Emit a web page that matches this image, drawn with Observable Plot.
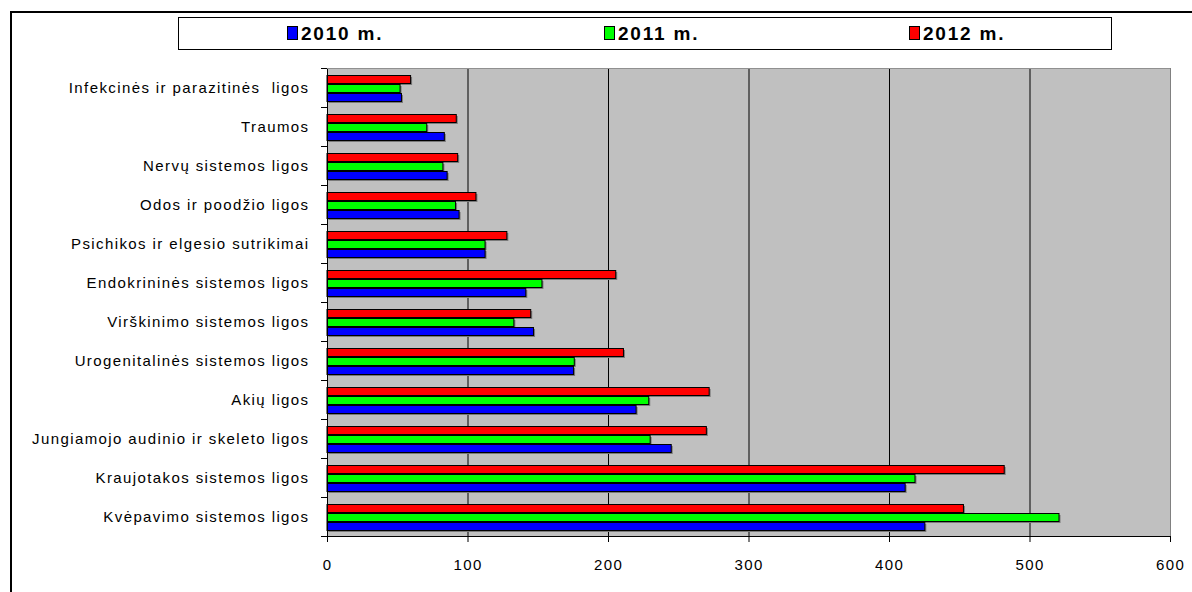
<!DOCTYPE html>
<html>
<head>
<meta charset="utf-8">
<script src="https://cdn.jsdelivr.net/npm/d3@7"></script>
<script src="https://cdn.jsdelivr.net/npm/@observablehq/plot@0.6"></script>
<style>
  html, body { margin: 0; padding: 0; background: #fff; overflow: hidden; }
  #wrap { position: relative; width: 1192px; height: 592px; font-family: "Liberation Sans", Arial, sans-serif; }
  #frame { position: absolute; left: 10px; top: 11px; width: 1200px; height: 600px; border-left: 2px solid #000; border-top: 2px solid #000; box-sizing: border-box; }
  #legend { position: absolute; left: 178px; top: 17px; width: 934px; height: 33px; border: 1px solid #000; box-sizing: border-box; background: #fff; z-index: 2; }
  .item { position: absolute; top: 5px; font-weight: bold; font-size: 19px; letter-spacing: 1.8px; line-height: 21px; white-space: nowrap; }
  .sw { display: inline-block; width: 9px; height: 12px; border: 1px solid #000; vertical-align: 0px; margin-right: 3px; }
  #chart { position: absolute; left: 0; top: 0; }
  #chart svg text { font-size: 15px !important; letter-spacing: 1.4px; font-family: "Liberation Sans", Arial, sans-serif; fill: #000; }
</style>
</head>
<body>
<div id="wrap">
  <div id="frame"></div>
  <div id="legend"></div>
  <div id="chart"></div>
</div>
<script>
const categories = [
  "Infekcinės ir parazitinės  ligos",
  "Traumos",
  "Nervų sistemos ligos",
  "Odos ir poodžio ligos",
  "Psichikos ir elgesio sutrikimai",
  "Endokrininės sistemos ligos",
  "Virškinimo sistemos ligos",
  "Urogenitalinės sistemos ligos",
  "Akių ligos",
  "Jungiamojo audinio ir skeleto ligos",
  "Kraujotakos sistemos ligos",
  "Kvėpavimo sistemos ligos"
];
const series = ["2010 m.", "2011 m.", "2012 m."];
const colors = ["#0000ff", "#00ff00", "#ff0000"];
const v2010 = [53, 83.5, 85.5, 94, 112.5, 141.5, 147, 175.5, 220, 245, 411.5, 425.5];
const v2011 = [52, 71, 82.5, 91.5, 112.5, 153, 133, 176, 229, 230, 418.5, 521];
const v2012 = [59.5, 92, 93, 106, 128, 205.5, 145, 211, 272, 270, 482, 453];
const xTicks = [0, 100, 200, 300, 400, 500, 600];
const gridTicks = [100, 200, 300, 400, 500];

const valuesBySeries = [v2010, v2011, v2012];
const data = [];
categories.forEach((c, i) => {
  series.forEach((s, j) => data.push({category: c, series: s, value: valuesBySeries[j][i]}));
});

// Legend
const legend = document.getElementById("legend");
const legendX = [108, 425, 730];
series.forEach((s, j) => {
  const d = document.createElement("div");
  d.className = "item";
  d.style.left = legendX[j] + "px";
  d.innerHTML = `<span class="sw" style="background:${colors[j]}"></span>${s}`;
  legend.appendChild(d);
});

const chart = Plot.plot({
  width: 1192,
  height: 592,
  marginLeft: 327,
  marginRight: 22,
  marginTop: 67,
  marginBottom: 55,
  style: {fontFamily: "'Liberation Sans', Arial, sans-serif", fontSize: "15px", color: "#000", background: "transparent"},
  x: {domain: [0, 600], ticks: xTicks, tickSize: 6, tickPadding: 17, label: null, line: true},
  y: {domain: ["2012 m.", "2011 m.", "2010 m."], paddingInner: 0, paddingOuter: 0.64, align: 0.6, axis: null},
  fy: {domain: categories, padding: 0, axis: "left", label: null, tickSize: 0, tickPadding: 18},
  color: {domain: series, range: colors},
  marks: [
    Plot.ruleX(gridTicks, {stroke: "#000", strokeWidth: 1}),
    Plot.ruleX([600], {stroke: "#808080", strokeWidth: 1}),
    Plot.barX(data, {x: "value", y: "series", fy: "category", fill: "#7a7a7a", dx: 1.5, dy: 1.5, insetTop: 0.5, insetBottom: 0.5}),
    Plot.barX(data, {x: "value", y: "series", fy: "category", fill: "series", stroke: "#000", strokeWidth: 1, insetTop: 0.5, insetBottom: 0.5}),
    Plot.ruleX([0], {stroke: "#000", strokeWidth: 1})
  ]
});
document.getElementById("chart").appendChild(chart);

// Plot-area background, top edge and band-boundary ticks, placed with the plot's own scales
const fy = chart.scale("fy");
const xs = chart.scale("x");
const svg = d3.select(chart.tagName === "svg" ? chart : chart.querySelector("svg"));
const x0 = xs.apply(0), x600 = xs.apply(600);
const bounds = categories.map(c => fy.apply(c));
bounds.push(fy.apply(categories[categories.length - 1]) + fy.step);
svg.insert("rect", ":first-child")
  .attr("x", x0).attr("y", bounds[0])
  .attr("width", x600 - x0).attr("height", bounds[bounds.length - 1] - bounds[0])
  .attr("fill", "#c0c0c0");
svg.append("line")
  .attr("x1", x0).attr("x2", x600)
  .attr("y1", bounds[0] + 0.5).attr("y2", bounds[0] + 0.5)
  .attr("stroke", "#909090");
svg.append("g").selectAll("line").data(bounds).join("line")
  .attr("x1", x0 - 6).attr("x2", x0)
  .attr("y1", d => Math.round(d) + 0.5).attr("y2", d => Math.round(d) + 0.5)
  .attr("stroke", "#000");
</script>
</body>
</html>
